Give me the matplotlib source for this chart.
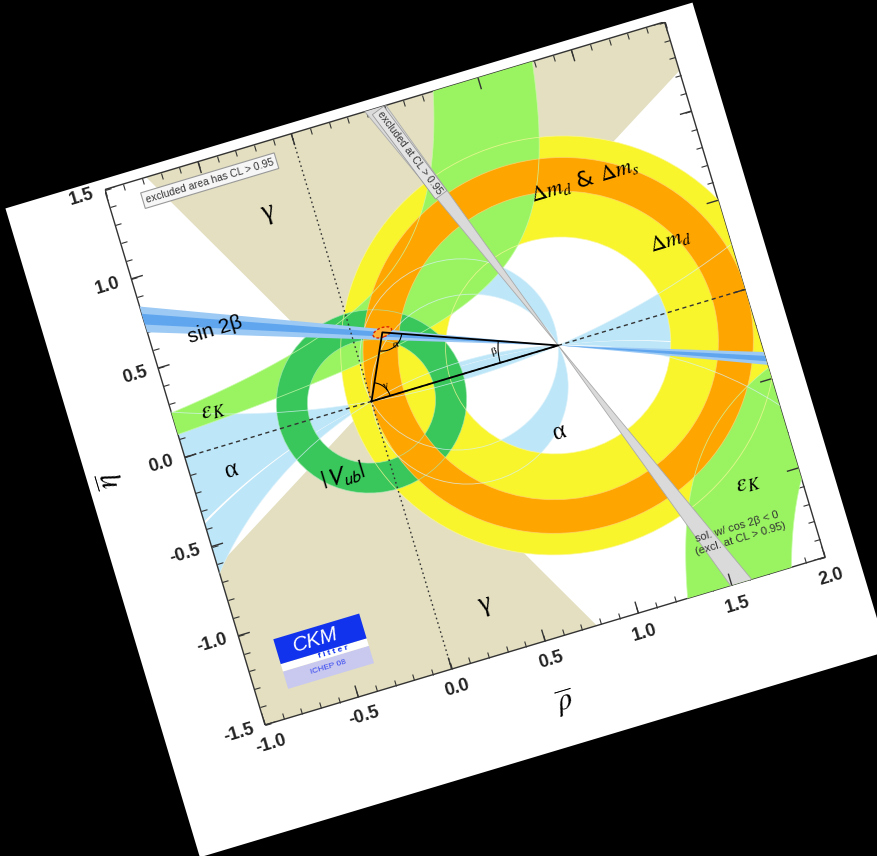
import numpy as np
import matplotlib
matplotlib.use("Agg")
import matplotlib.pyplot as plt
from matplotlib.transforms import Affine2D
from matplotlib.patches import Polygon, Wedge, Ellipse, Arc, Rectangle, Circle
import mpl_toolkits.axisartist.floating_axes as floating_axes
from mpl_toolkits.axisartist.grid_finder import FixedLocator

plt.rcParams['mathtext.fontset'] = 'stix'

# ---------------- data ----------------
rho_lim = [-1.0, 2.0]
eta_lim = [-1.5, 1.5]
rho_minor = np.round(np.arange(-1.0, 2.001, 0.1), 2)
eta_minor = np.round(np.arange(-1.5, 1.501, 0.1), 2)
rho_major = [-1.0, -0.5, 0.0, 0.5, 1.0, 1.5, 2.0]
eta_major = [-1.5, -1.0, -0.5, 0.0, 0.5, 1.0, 1.5]

apex_fit = [0.155, 0.338]            # fitted apex (rho, eta)
fit_size = [0.10, 0.05]              # width, height of the fit region
gamma_range = [31.5, 117.4]          # deg, wedge from (0,0) (+ mirror)
alpha_bands = [[165.0, 170.1], [170.4, 187.0], [78.0, 100.0]]   # deg, mod 180
dmd_r = [0.58, 1.12]                 # Delta m_d annulus around (1,0)
dms_r = [0.825, 1.005]               # Delta m_d & Delta m_s annulus
vub_r = [0.33, 0.49]                 # |Vub| annulus around (0,0)
epsK_up_a = [1.11, 1.504]            # upper branch edges: eta = C/(a-rho)
epsK_up_C = [0.525, 0.32]
epsK_lo_a = [0.96, 1.385]            # lower-right branch edges
epsK_lo_C = [0.456, 0.652]
beta_2sig = [19.3, 22.9]             # deg
beta_1sig = [20.4, 21.9]
beta_excl = [68.0, 71.8]             # cos2beta<0 solution (grey)

# ---------------- layout ----------------
W, H = 878, 856
ANG = 16.68
SX, SY = 194.9, 186.3
BL_PX = (265.0, H - 725.0)

col_tan = '#e3dfc0'
col_alpha = '#bde6f8'
col_yellow = '#f9f52c'
col_orange = '#ffa500'
col_epsk = '#9af462'
col_vub = '#39c65a'
col_b2 = '#9ccaf5'
col_b1 = '#5fa6ef'
col_grey = '#dadada'

tr = Affine2D().scale(SX, SY).rotate_deg(ANG)
corners = tr.transform([[rho_lim[0], eta_lim[0]], [rho_lim[1], eta_lim[0]],
                        [rho_lim[1], eta_lim[1]], [rho_lim[0], eta_lim[1]]])
xmin, ymin = corners.min(0)
xmax, ymax = corners.max(0)
bl = corners[0]
left_px = BL_PX[0] - (bl[0] - xmin)
bottom_px = BL_PX[1] - (bl[1] - ymin)
rect = [left_px / W, bottom_px / H, (xmax - xmin) / W, (ymax - ymin) / H]


def fmt(direction, factor, values):
    out = []
    for v in values:
        v = float(v)
        if abs(v) < 1e-9:
            v = 0.0
        out.append("%.1f" % v if abs(v * 2 - round(v * 2)) < 1e-6 else "")
    return out


fig = plt.figure(figsize=(W / 100, H / 100), dpi=100, facecolor='black')
gh = floating_axes.GridHelperCurveLinear(
    tr, extremes=(rho_lim[0], rho_lim[1], eta_lim[0], eta_lim[1]),
    grid_locator1=FixedLocator(rho_minor), grid_locator2=FixedLocator(eta_minor),
    tick_formatter1=fmt, tick_formatter2=fmt)
ax = fig.add_axes(rect, axes_class=floating_axes.FloatingAxes, grid_helper=gh)
ax.set_xlim(xmin, xmax)
ax.set_ylim(ymin, ymax)
aux = ax.get_aux_axes(tr)
aux.patch = ax.patch
ax.patch.zorder = 0.9

for side in ['left', 'right', 'top', 'bottom']:
    a = ax.axis[side]
    a.line.set_color('#333333')
    a.line.set_linewidth(1.0)
    a.major_ticks.set_ticksize(4.5)
    a.major_ticks.set_color('#333333')
for side in ['right', 'top']:
    ax.axis[side].major_ticklabels.set_visible(False)
for side in ['left', 'bottom']:
    tl = ax.axis[side].major_ticklabels
    tl.set_fontsize(13)
    tl.set_fontweight('bold')
    tl.set_family('Liberation Sans')
    tl.set_color('#222222')
    tl.set_pad(8.5)

# white page behind the frame
page = Polygon([[-1.515, -2.08], [2.165, -2.08], [2.165, 1.556], [-1.515, 1.556]],
               closed=True, transform=tr + ax.transData, facecolor='white',
               edgecolor='none', zorder=-5)
fig.add_artist(page)

# ---- gamma wedges ----
for off in (0, 180):
    aux.add_patch(Wedge((0, 0), 6, gamma_range[0] + off, gamma_range[1] + off,
                        facecolor=col_tan, edgecolor='none', zorder=1))

# ---- alpha (lunes between circles through (0,0) and (1,0)) ----
R, E = np.meshgrid(np.linspace(-1.05, 2.05, 800), np.linspace(-1.55, 1.55, 800))
Z = R + 1j * E + 1e-9
alpha = np.angle((Z - 1) / Z)
for lo, hi in alpha_bands:
    mid = np.radians((lo + hi) / 2)
    f = np.cos(2 * (alpha - mid))
    aux.contourf(R, E, f, levels=[np.cos(np.radians(hi - lo)), 1.1],
                 colors=[col_alpha], zorder=2, antialiased=True)

# ---- Delta m_d (yellow) ----
aux.add_patch(Wedge((1, 0), dmd_r[1], 0, 360, width=dmd_r[1] - dmd_r[0],
                    facecolor=col_yellow, edgecolor='none', zorder=3))

# ---- eps_K ----
eta_u = np.linspace(0.02, 2.4, 400)
up_edge = epsK_up_a[0] - epsK_up_C[0] / eta_u
lo_edge = epsK_up_a[1] - epsK_up_C[1] / eta_u
mu = up_edge > -1.4
ml = lo_edge > -1.4
poly_up = np.vstack([np.column_stack([up_edge[mu], eta_u[mu]]),
                     np.column_stack([lo_edge[ml], eta_u[ml]])[::-1]])
aux.add_patch(Polygon(poly_up, closed=True, facecolor=col_epsk, edgecolor='none', zorder=4))
eta_l = -np.linspace(0.02, 2.4, 400)
l_edge = epsK_lo_a[0] + epsK_lo_C[0] / np.abs(eta_l)
r_edge = epsK_lo_a[1] + epsK_lo_C[1] / np.abs(eta_l)
m1 = l_edge < 2.4
m2 = r_edge < 2.4
poly_lo = np.vstack([np.column_stack([l_edge[m1], eta_l[m1]]),
                     np.column_stack([r_edge[m2], eta_l[m2]])[::-1]])
aux.add_patch(Polygon(poly_lo, closed=True, facecolor=col_epsk, edgecolor='none', zorder=4))

# ---- |Vub| ----
aux.add_patch(Wedge((0, 0), vub_r[1], 0, 360, width=vub_r[1] - vub_r[0],
                    facecolor=col_vub, edgecolor='none', zorder=5))

# ---- Delta m_d & Delta m_s (orange) ----
aux.add_patch(Wedge((1, 0), dms_r[1], 0, 360, width=dms_r[1] - dms_r[0],
                    facecolor=col_orange, edgecolor='none', zorder=6))

# ---- faint outlines of all constraints (drawn over the fills) ----
ol = dict(fill=False, lw=0.6, zorder=6.5)
for r in dmd_r:
    aux.add_patch(Circle((1, 0), r, ec='#fbf79a', alpha=0.75, **ol))
for r in dms_r:
    aux.add_patch(Circle((1, 0), r, ec='#ffd27a', alpha=0.75, **ol))
for r in vub_r:
    aux.add_patch(Circle((0, 0), r, ec='#a8e8b8', alpha=0.7, **ol))
for a_deg in (alpha_bands[0][0], alpha_bands[1][1], alpha_bands[2][0], alpha_bands[2][1]):
    a_r = np.radians(a_deg)
    aux.add_patch(Circle((0.5, 0.5 / np.tan(a_r)), 0.5 / abs(np.sin(a_r)),
                         ec='#d8f1fb', alpha=0.75, **ol))
for xs, ys in ((up_edge[mu], eta_u[mu]), (lo_edge[ml], eta_u[ml]),
               (l_edge[m1], eta_l[m1]), (r_edge[m2], eta_l[m2])):
    aux.plot(xs, ys, color='#c8fba8', lw=0.6, alpha=0.8, zorder=6.5)

# ---- sin 2beta ----
for rng, col, z in ((beta_2sig, col_b2, 7), (beta_1sig, col_b1, 7.1)):
    aux.add_patch(Wedge((1, 0), 5, 180 - rng[1], 180 - rng[0], facecolor=col,
                        edgecolor='none', zorder=z))
    aux.add_patch(Wedge((1, 0), 5, -rng[1], -rng[0], facecolor=col,
                        edgecolor='none', zorder=z))
# excluded solution (grey)
aux.add_patch(Wedge((1, 0), 5, 180 - beta_excl[1], 180 - beta_excl[0],
                    facecolor=col_grey, edgecolor='#aaaaaa', lw=0.6, zorder=8))
aux.add_patch(Wedge((1, 0), 5, -beta_excl[1], -beta_excl[0],
                    facecolor=col_grey, edgecolor='#aaaaaa', lw=0.6, zorder=8))

# ---- fit region ----
aux.add_patch(Ellipse(apex_fit, fit_size[0], fit_size[1], angle=5,
                      facecolor='#ffb030', edgecolor='#dd2200', lw=1.0,
                      ls=(0, (2, 1.5)), zorder=9))

# ---- reference lines ----
aux.plot([0, 0], eta_lim, color='#333333', lw=1.0, ls=(0, (1.2, 2.2)), zorder=10)
aux.plot(rho_lim, [0, 0], color='#333333', lw=1.0, ls=(0, (3, 2.5)), zorder=10)

# ---- triangle ----
aux.plot([0, 1, apex_fit[0], 0], [0, 0, apex_fit[1], 0], color='black', lw=1.3, zorder=11)
aux.add_patch(Arc((0, 0), 0.2, 0.2, theta1=0,
                  theta2=np.degrees(np.arctan2(apex_fit[1], apex_fit[0])),
                  color='black', lw=0.8, zorder=11))
aux.add_patch(Arc((1, 0), 0.62, 0.62, theta1=180 - 22, theta2=180,
                  color='black', lw=0.8, zorder=11))
aux.add_patch(Arc(apex_fit, 0.2, 0.2,
                  theta1=np.degrees(np.arctan2(-apex_fit[1], -apex_fit[0])),
                  theta2=np.degrees(np.arctan2(-apex_fit[1], 1 - apex_fit[0])) + 360,
                  color='black', lw=0.8, zorder=11))

# ---- major ticks (longer) ----
Lx, Ly = 12.0 / SX, 12.0 / SY
aux.vlines(rho_major, eta_lim[0], eta_lim[0] + Ly, color='#333333', lw=1.0, zorder=12)
aux.vlines(rho_major, eta_lim[1] - Ly, eta_lim[1], color='#333333', lw=1.0, zorder=12)
aux.hlines(eta_major, rho_lim[0], rho_lim[0] + Lx, color='#333333', lw=1.0, zorder=12)
aux.hlines(eta_major, rho_lim[1] - Lx, rho_lim[1], color='#333333', lw=1.0, zorder=12)

# ---- labels ----
serif = 'Liberation Serif'
sans = 'Liberation Sans'
kw = dict(rotation=ANG, rotation_mode='anchor', ha='center', va='center', zorder=13)
aux.text(-0.23, 1.13, 'γ', fontsize=20, family=serif, **kw)
aux.text(0.26, -1.22, 'γ', fontsize=20, family=serif, **kw)
aux.text(-0.66, 0.61, 'sin 2β', fontsize=15, family=sans, **kw)
aux.text(-0.79, 0.20, r'$\varepsilon_K$', fontsize=18, **kw)
aux.text(1.73, -1.0, r'$\varepsilon_K$', fontsize=18, **kw)
aux.text(-0.79, -0.14, 'α', fontsize=18, family=serif, **kw)
aux.text(0.88, -0.45, 'α', fontsize=18, family=serif, **kw)
aux.text(-0.25, -0.34, r'$|\mathsf{V}_{\mathsf{ub}}|$', fontsize=18, **kw)
aux.text(1.375, 0.81, r'$\Delta m_d$ & $\Delta m_s$', fontsize=16, **kw)
aux.text(1.705, 0.37, r'$\Delta m_d$', fontsize=16, **kw)
aux.text(0.672, 0.068, 'β', fontsize=8, family=serif, **kw)
aux.text(0.20, 0.255, 'α', fontsize=8, family=serif, **kw)
aux.text(0.09, 0.06, 'γ', fontsize=8, family=serif, **kw)

aux.text(-0.47, 1.384, 'excluded area has CL > 0.95', fontsize=7.5, family=sans,
         color='#333333',
         bbox=dict(boxstyle='square,pad=0.3', fc='#f6f6f6', ec='#999999', lw=0.8), **kw)
mid_ex = np.mean(beta_excl)
aux.text(1 - 1.22 / np.tan(np.radians(mid_ex)), 1.22, 'excluded at CL > 0.95',
         fontsize=7.5, family=sans, color='#333333',
         rotation=ANG - mid_ex, rotation_mode='anchor', ha='center', va='center',
         zorder=13, bbox=dict(boxstyle='square,pad=0.2', fc='#e4e4e4', ec='#999999', lw=0.6))
aux.text(1.61, -1.24, 'sol. w/ cos 2β < 0\n(excl. at CL > 0.95)', fontsize=8,
         family=sans, color='#333333', linespacing=1.3, **kw)

# axis titles
aux.text(-1.40, 0.0, r'$\overline{\eta}$', fontsize=22, rotation=ANG + 90,
         rotation_mode='anchor', ha='center', va='center')
aux.text(0.506, -1.85, r'$\overline{\rho}$', fontsize=22, rotation=ANG,
         rotation_mode='anchor', ha='center', va='center')

# ---- CKMfitter logo ----
logo = [-0.833, -1.35, 0.46, 0.278]
x0, y0, lw_, lh_ = logo
aux.add_patch(Rectangle((x0, y0), lw_, 0.35 * lh_, facecolor='#c9c9f0', edgecolor='none', zorder=12))
aux.add_patch(Rectangle((x0, y0 + 0.35 * lh_), lw_, 0.15 * lh_, facecolor='white', edgecolor='none', zorder=12))
aux.add_patch(Rectangle((x0, y0 + 0.5 * lh_), lw_, 0.5 * lh_, facecolor='#1133ee', edgecolor='none', zorder=12))
aux.text(x0 + 0.45 * lw_, y0 + 0.75 * lh_, 'CKM', fontsize=15, family=sans, color='white',
         style='italic', **kw)
aux.text(x0 + 0.6 * lw_, y0 + 0.425 * lh_, 'f i t t e r', fontsize=6, family=sans,
         color='#1133ee', weight='bold', **kw)
aux.text(x0 + 0.5 * lw_, y0 + 0.17 * lh_, 'ICHEP 08', fontsize=6, family=sans,
         color='#3344ee', **kw)

fig.savefig('out.png', dpi=100, facecolor='black')
